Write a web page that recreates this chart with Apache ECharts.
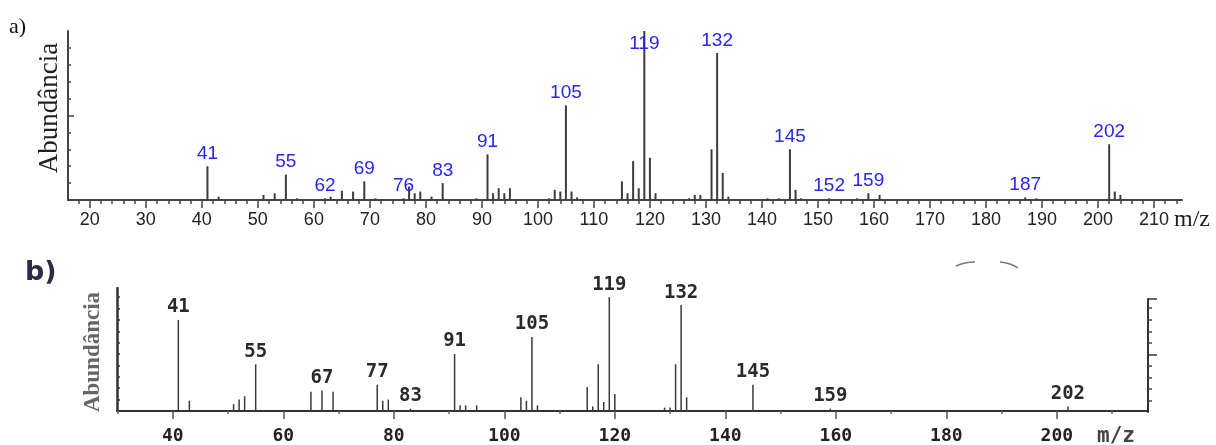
<!DOCTYPE html>
<html><head><meta charset="utf-8">
<script src="https://cdn.jsdelivr.net/npm/echarts@6/dist/echarts.min.js"></script>
<style>html,body{margin:0;padding:0;background:#fff}#c{width:1216px;height:445px}</style>
</head><body><div id="c"></div>
<script>
// ---- Spectrum a) ----
const mzA = [41,43,51,53,55,57,62,63,65,67,69,71,76,77,78,79,81,83,89,91,92,93,94,95,102,103,104,105,106,107,115,116,117,118,119,120,121,127,128,129,131,132,133,134,141,143,145,146,147,152,157,159,161,187,189,202,203,204];
const abA = [20,2,3,4,15,1,1,2,5.5,5,11,1,1,8,4,5,2,10,1,27,4,7,4,7,1,6,5,56,5,1.5,11,4,23,7,100,25,4,1,3,3,30,87,16,2,1,1,30,6,1,1,1,4,3,1.5,1,33,5,3];
const labelsA = [41,55,62,69,76,83,91,105,119,132,145,152,159,187,202];
const ticksA = [20,30,40,50,60,70,80,90,100,110,120,130,140,150,160,170,180,190,200,210];

// ---- Spectrum b) ----
const mzB = [41,43,51,52,53,55,65,67,69,77,78,79,83,91,92,93,95,103,104,105,106,115,116,117,118,119,120,129,130,131,132,133,145,159,202];
const abB = [80,9,6,10,13,41,17,18,17,23,9,10,2,50,5,5,5,12,9,65,5,21,4,41,8,100,15,3,3,41,93,12,23,2,4];
const labelsB = [41,55,67,77,83,91,105,119,132,145,159,202];
const ticksB = [40,60,80,100,120,140,160,180,200];

const minorTicksA = [];
for (let v = 16; v <= 214; v += 2) minorTicksA.push(v);
const minorTicksB = [30,50,70,90,110,130,150,170,190,210];
const yTicks = [10,20,30,40,60,70,80,90];

const blue = '#2626f2';
const dataA = mzA.map((m, i) => {
  const d = { value: [m, abA[i]] };
  if (labelsA.includes(m)) {
    d.label = { show: true };
    if (m === 119) d.label.position = 'insideTop';
  }
  return d;
});
const dataB = mzB.map((m, i) => {
  const d = { value: [m, abB[i]] };
  if (labelsB.includes(m)) d.label = { show: true };
  return d;
});

const chart = echarts.init(document.getElementById('c'));
chart.setOption({
  animation: false,
  backgroundColor: '#fff',
  grid: [
    { left: 68, right: 34, top: 31, bottom: 245 },
    { left: 117, right: 68, top: 288, bottom: 33 },
    { left: 117, right: 68, top: 299, bottom: 33 }
  ],
  xAxis: [
    { gridIndex: 0, type: 'value', position: 'bottom', min: 16.1, max: 215.0,
      axisLine: { show: true, lineStyle: { color: '#444', width: 2 } },
      axisTick: { show: true, length: 4, customValues: minorTicksA, lineStyle: { color: '#444', width: 1.5 } },
      axisLabel: { show: true, customValues: ticksA, margin: 11, fontFamily: 'Liberation Sans, Arial', fontSize: 18, color: '#222' },
      splitLine: { show: false } },
    { gridIndex: 0, type: 'value', position: 'bottom', min: 16.1, max: 215.0,
      axisLine: { show: false },
      axisTick: { show: true, length: 8, customValues: ticksA, lineStyle: { color: '#444', width: 1.5 } },
      axisLabel: { show: false }, splitLine: { show: false } },
    { gridIndex: 1, type: 'value', position: 'bottom', min: 29.9, max: 216.5,
      axisLine: { show: true, lineStyle: { color: '#333', width: 2 } },
      axisTick: { show: true, length: 3, customValues: minorTicksB, lineStyle: { color: '#666', width: 1.5 } },
      axisLabel: { show: true, customValues: ticksB, margin: 16, fontFamily: 'DejaVu Sans Mono', fontWeight: 'bold', fontSize: 18, color: '#222' },
      splitLine: { show: false } },
    { gridIndex: 1, type: 'value', position: 'bottom', min: 29.9, max: 216.5,
      axisLine: { show: false },
      axisTick: { show: true, length: 8, customValues: ticksB, lineStyle: { color: '#555', width: 1.5 } },
      axisLabel: { show: false }, splitLine: { show: false } },
    { gridIndex: 2, type: 'value', position: 'bottom', min: 29.9, max: 216.5, show: false }
  ],
  yAxis: [
    { gridIndex: 0, type: 'value', position: 'left', min: 0, max: 100,
      axisLine: { show: true, lineStyle: { color: '#444', width: 2 } },
      axisTick: { show: true, inside: true, length: 3, customValues: yTicks, lineStyle: { color: '#444', width: 1.5 } },
      axisLabel: { show: false }, splitLine: { show: false } },
    { gridIndex: 0, type: 'value', min: 0, max: 100, position: 'left',
      axisLine: { show: false },
      axisTick: { show: true, inside: true, length: 6, customValues: [50], lineStyle: { color: '#444', width: 1.5 } },
      axisLabel: { show: false }, splitLine: { show: false } },
    { gridIndex: 1, type: 'value', position: 'left', min: 0, max: 108,
      axisLine: { show: true, lineStyle: { color: '#333', width: 2.5 } },
      axisTick: { show: true, inside: true, length: 3, customValues: [10,20,30,40,50,60,70,80,90,100], lineStyle: { color: '#333', width: 1.5 } },
      axisLabel: { show: false }, splitLine: { show: false } },
    { gridIndex: 2, type: 'value', min: 0, max: 98, position: 'right',
      axisLine: { show: true, lineStyle: { color: '#333', width: 2 } },
      axisTick: { show: true, length: 4, customValues: yTicks, lineStyle: { color: '#444', width: 1.5 } },
      axisLabel: { show: false }, splitLine: { show: false } },
    { gridIndex: 2, type: 'value', min: 0, max: 98, position: 'right',
      axisLine: { show: false },
      axisTick: { show: true, length: 9, customValues: [50, 98], lineStyle: { color: '#333', width: 1.5 } },
      axisLabel: { show: false }, splitLine: { show: false } }
  ],
  series: [
    { type: 'bar', xAxisIndex: 0, yAxisIndex: 0, barWidth: 2, data: dataA,
      itemStyle: { color: '#3c3c3c' },
      label: { show: false, position: 'top', distance: 3, formatter: p => p.value[0],
        fontFamily: 'Liberation Sans, Arial', fontSize: 19, color: blue } },
    { type: 'bar', xAxisIndex: 2, yAxisIndex: 2, barWidth: 1.5, data: dataB,
      itemStyle: { color: '#3a3a3a' },
      label: { show: false, position: 'top', distance: 3, formatter: p => p.value[0],
        fontFamily: 'DejaVu Sans Mono', fontWeight: 'bold', fontSize: 19, color: '#2a2a2a' } }
  ],
  graphic: [
    { type: 'text', left: 9, top: 16, style: { text: 'a)', font: '22px "Liberation Serif", serif', fill: '#111' } },
    { type: 'text', x: 50, y: 108, rotation: Math.PI / 2,
      style: { text: 'Abundância', font: '27px "Liberation Serif", serif', fill: '#222', align: 'center', verticalAlign: 'middle' } },
    { type: 'text', left: 1174, top: 208, style: { text: 'm/z', font: '24px "Liberation Serif", serif', fill: '#222' } },
    { type: 'text', left: 25, top: 259, style: { text: 'b)', font: 'bold 27px "DejaVu Sans", sans-serif', fill: '#2b2b4a' } },
    { type: 'text', x: 93, y: 352, rotation: Math.PI / 2,
      style: { text: 'Abundância', font: 'bold 23px "Liberation Serif", serif', fill: '#666', align: 'center', verticalAlign: 'middle' } },
    { type: 'text', left: 1097, top: 426, style: { text: 'm/z', font: 'bold 21px "DejaVu Sans Mono", monospace', fill: '#444' } },
    { type: 'polyline', shape: { points: [[956, 266], [965, 263], [975, 262]], smooth: 0.5 }, style: { stroke: '#777', lineWidth: 1.5, fill: null } },
    { type: 'polyline', shape: { points: [[1000, 262], [1010, 264], [1018, 268]], smooth: 0.5 }, style: { stroke: '#777', lineWidth: 1.5, fill: null } }
  ]
});
</script></body></html>
